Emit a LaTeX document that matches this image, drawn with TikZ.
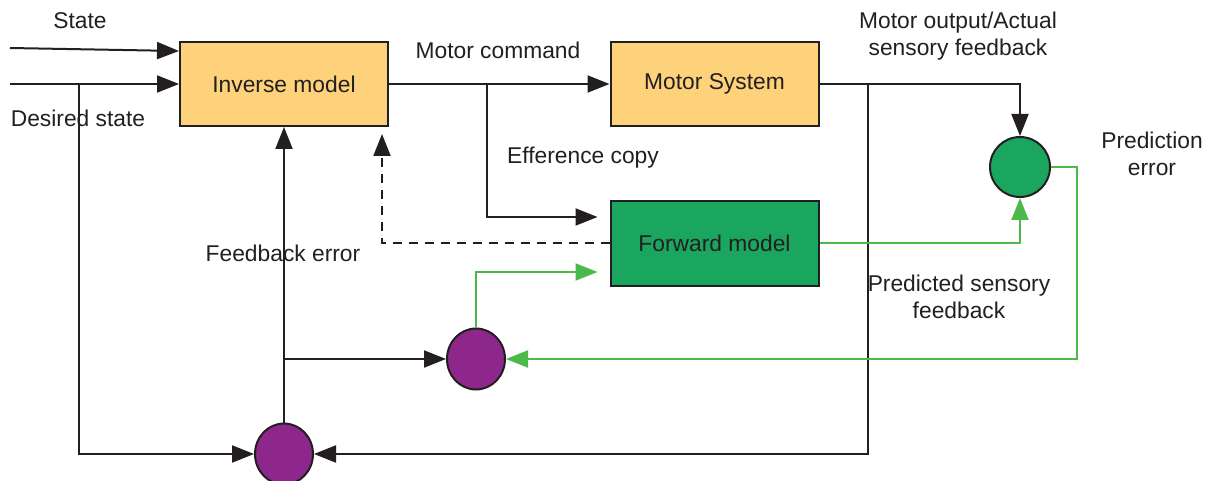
\documentclass[tikz,border=0pt]{standalone}
\usepackage{fontspec}
\setmainfont{Liberation Sans}
\usetikzlibrary{arrows.meta,shapes.geometric}
\definecolor{lineK}{RGB}{35,31,32}
\definecolor{boxorange}{RGB}{253,210,122}
\definecolor{boxgreen}{RGB}{26,166,95}
\definecolor{lgreen}{RGB}{77,185,72}
\definecolor{purp}{RGB}{142,39,140}
\begin{document}
\begin{tikzpicture}[x=1pt,y=-1pt,
  every node/.style={font=\fontsize{22.8}{27}\selectfont, text=lineK},
  box/.style={draw=lineK, line width=2pt, minimum width=208pt, minimum height=84pt, inner sep=0pt},
  comp/.style={draw=lineK, line width=2pt, ellipse, minimum width=58pt, minimum height=61pt, inner sep=0pt},
  lbl/.style={align=center, inner sep=0pt},
  arr/.style={draw=lineK, line width=2pt, -{Triangle[length=22pt,width=17pt]}},
  garr/.style={draw=lgreen, line width=2pt, -{Triangle[length=22pt,width=17pt]}},
  darr/.style={draw=lineK, line width=2pt, dash pattern=on 9pt off 7pt, -{Triangle[length=22pt,width=17pt]}}
]
\useasboundingbox (0,0) rectangle (1213,481);
\fill[white] (0,0) rectangle (1213,481);

\node[box, fill=boxorange] (inv) at (284,84) {Inverse model};
\node[box, fill=boxorange] (ms) at (714.5,84) {Motor System};
\node[box, fill=boxgreen] (fm) at (714.5,243.5) {Forward model};
\node[comp, circle, minimum size=60pt, fill=boxgreen] (pe) at (1020,167) {};
\node[comp, fill=purp] (p1) at (476,359) {};
\node[comp, fill=purp] (p2) at (284,454) {};

\coordinate (s0) at (10,48);
\coordinate (d0) at (10,84);
\coordinate (dj) at (79,84);
\coordinate (ej) at (487,84);
\coordinate (mj) at (868,84);
\coordinate (gc) at (1077,359);
\coordinate (fj) at (284,359);
\coordinate (dc) at (382,243.5);

% inputs
\draw[arr] (s0) -- (inv.north west |- 0,51);
\draw[arr] (d0) -- (inv.west);
\draw[arr] (dj) |- (p2);
% motor command
\draw[arr] (inv) -- (ms);
% efference copy
\draw[arr, shorten >=12pt] (ej) |- ([yshift=26.5pt]fm.west);
% motor output
\draw[arr] (ms.east) -| (pe.north);
\draw[arr] (mj) |- (p2);
% predicted sensory feedback
\draw[garr] (fm.east) -| (pe.south);
% prediction error
\draw[garr] (pe.east) -| (gc) -- (p1);
\draw[garr, shorten >=12pt] (p1.north) |- ([yshift=-28.5pt]fm.west);
% feedback error
\draw[arr] (p2.north) -- (inv.south);
\draw[arr] (fj) -- (p1);
% dashed
\draw[darr, shorten >=7pt] (fm.west) -- (dc) -- (inv.south -| dc);

% labels
\node[lbl] (lstate) at (80,21) {State};
\node[lbl] (ldes) at (78,118) {Desired state};
\node[lbl] (lmc) at (498,50) {Motor command};
\node[lbl] (lmo) at (958,36) {Motor output/Actual\\sensory feedback};
\node[lbl] (lpe) at (1152,154) {Prediction\\error};
\node[lbl] (lec) at (583,158) {Efference copy};
\node[lbl] (lfe) at (283,253) {Feedback error};
\node[lbl] (lps) at (959,297) {Predicted sensory\\feedback};
\end{tikzpicture}
\end{document}
